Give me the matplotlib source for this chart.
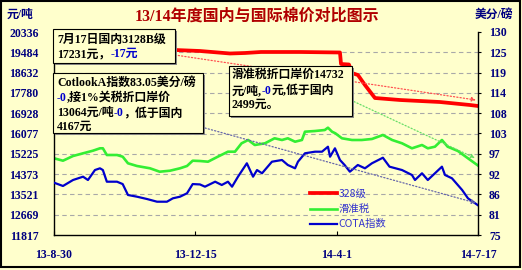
import numpy as np
import matplotlib
matplotlib.use('Agg')
import matplotlib.pyplot as plt
from matplotlib.patches import Rectangle
from matplotlib.text import Annotation

plt.rcParams['font.family'] = ['Noto Sans CJK SC', 'DejaVu Sans']

# ---- data (days since 2013-08-30) ----
red_day = [0, 91.6, 110.5, 133.2, 144.6, 156.7, 186.2, 216.5, 217.3, 223.3,
           225.6, 230.1, 235.4, 243, 262, 292.2, 315, 321]
red_val = [19560, 19581, 19539, 19434, 19455, 19497, 19497, 19476, 18993, 18972,
           18615, 18531, 18112, 17566, 17482, 17398, 17272, 17231]

green_day = [0, 6.8, 14.4, 22, 29.5, 34.8, 37, 40, 47.7, 52,
             56, 62.8, 72.7, 80, 87.8, 95.4, 100.7, 105, 110.5, 116.6,
             124, 131.7, 137, 142, 147, 152, 159.7, 167, 172.6, 177,
             182.5, 187.7, 190, 197.6, 205, 207.4, 210.5, 213, 218, 225.6,
             233, 240.7, 249, 256, 263.5, 271, 278.6, 283, 288.4, 293.7,
             298, 305.8, 313.4, 321]
green_val = [15036, 14935, 15132, 15245, 15355, 15455, 15455, 15174, 15174, 15103,
             14826, 14713, 14616, 14473, 14515, 14616, 14713, 14935, 14922, 14893,
             15103, 15313, 15313, 15665, 15804, 15594, 15665, 15875, 15804, 15875,
             15732, 15804, 16152, 16181, 16223, 16320, 16152, 16085, 15875, 15804,
             15804, 15846, 16014, 15804, 15665, 15455, 15594, 15455, 15523, 15804,
             15523, 15342, 15036, 14732]

blue_day = [0, 6.8, 14.4, 22, 25.7, 31, 34.8, 37, 40, 47.7,
            52, 56, 62.8, 70.4, 78, 85.5, 90, 95.4, 100.7, 105,
            110.5, 114.3, 122, 127, 131.7, 134.8, 139.3, 146, 150.7, 153.7,
            157.5, 165, 172.6, 177, 182.5, 184.7, 190, 197.6, 202.9, 207.4,
            209, 212.7, 216.5, 220, 224, 230, 235.4, 240.7, 249, 254,
            263.5, 271, 273.3, 278.6, 283, 293.7, 296, 301.3, 309, 313.4,
            321]
blue_val = [89.17, 88.28, 89.9, 90.8, 89.9, 92.6, 93.07, 92.6, 89.44, 89.44,
            88.8, 85.84, 85.38, 84.75, 84.02, 84.02, 84.94, 85.38, 86.3, 88.8,
            88.7, 88.09, 89.44, 88.55, 89.44, 88.09, 90.8, 94.43, 90.8, 92.6,
            91.72, 94.86, 95.32, 93.97, 93.07, 94.86, 97.14, 97.57, 97.57, 98.92,
            96.21, 98.49, 95.32, 93.97, 92.15, 93.97, 93.07, 94.43, 95.94, 93.51,
            92.6, 91.26, 89.9, 91.72, 89.9, 93.51, 91.26, 90.36, 87.19, 84.94,
            83.05]

x_ticks = [0, 107, 214, 321]
x_labels = ['13-8-30', '13-12-15', '14-4-1', '14-7-17']
left_labels = ['11817', '12669', '13521', '14373', '15225', '16077',
               '16928', '17780', '18632', '19484', '20336']
right_labels = ['75', '81', '86', '92', '97', '103', '108', '114', '119', '125', '130']
series_names = ['328级', '滑准税', 'COTA指数']

title = '13/14年度国内与国际棉价对比图示'

bg = '#FFFFCC'
navy = '#000080'
W, H = 522, 270


def fx(px):
    return px / W


def fy(py):
    return 1 - py / H


fig = plt.figure(figsize=(5.22, 2.70), dpi=100)
fig.patch.set_facecolor(bg)
ax = fig.add_axes([fx(54), fy(235), fx(478) - fx(54), fy(32) - fy(235)])
ax.set_facecolor(bg)
ax2 = ax.twinx()

left_ticks = np.linspace(11817, 20336, len(left_labels))
right_ticks = np.linspace(75, 130, len(right_labels))

for v in left_ticks[1:-1]:
    ax.axhline(v, color='#A8A8A8', lw=0.8, ls=(0, (4, 3)), zorder=0.5)

l1, = ax.plot(red_day, red_val, color='#FF0000', lw=2.7, zorder=3)
l2, = ax.plot(green_day, green_val, color='#33EE33', lw=1.9, zorder=2)
l3, = ax2.plot(blue_day, blue_val, color='#0000CC', lw=1.6, zorder=2)

ax.set_xlim(0, 321)
ax.set_ylim(11817, 20336)
ax2.set_ylim(75, 130)
ax.set_xticks(x_ticks)
ax.set_xticklabels(x_labels)
ax.set_yticks(left_ticks)
ax.set_yticklabels(left_labels)
ax2.set_yticks(right_ticks)
ax2.set_yticklabels(right_labels)

tick_font = dict(family='Liberation Serif', weight='bold', size=8.5)
for lab in ax.get_xticklabels() + ax.get_yticklabels() + ax2.get_yticklabels():
    lab.set_fontproperties(matplotlib.font_manager.FontProperties(**tick_font))
    lab.set_color(navy)

ax.tick_params(axis='x', direction='in', length=3, pad=10)
ax.tick_params(axis='y', length=0, pad=11)
ax2.tick_params(axis='y', direction='out', length=2.5, pad=5.5)

for s in ['top', 'right']:
    ax.spines[s].set_visible(False)
for s in ['top', 'left', 'bottom']:
    ax2.spines[s].set_visible(False)
for a, s in [(ax, 'left'), (ax, 'bottom'), (ax2, 'right')]:
    a.spines[s].set_color('black')
    a.spines[s].set_linewidth(1)

ax2.legend([l1, l2, l3], series_names, loc='upper left',
           bbox_to_anchor=(fx(310), fy(189)), bbox_transform=fig.transFigure,
           frameon=False, fontsize=7.5, handlelength=2.6, handletextpad=0.15,
           labelspacing=0.5, borderpad=0, borderaxespad=0, labelcolor='#3333CC')

# titles and units
serif_cjk = ['Liberation Serif', 'Noto Sans CJK SC']
fig.text(fx(257), fy(17), title, ha='center', va='center', fontsize=11.5,
         weight='bold', color='#B00000', family=serif_cjk)
fig.text(fx(7), fy(15), '元/吨', ha='left', va='center', fontsize=8.5,
         weight='bold', color=navy, family=serif_cjk)
fig.text(fx(513), fy(15), '美分/磅', ha='right', va='center', fontsize=8.5,
         weight='bold', color=navy, family=serif_cjk)

# dotted connectors
for (x0, y0), (x1, y1), c in [((175, 55), (476, 100), '#FF5050'),
                              ((342, 96), (475, 158), '#66DD66'),
                              ((205, 128), (476, 203), '#6666AA')]:
    fig.add_artist(Annotation('', xy=(fx(x1), fy(y1)), xytext=(fx(x0), fy(y0)),
                              xycoords='figure fraction', textcoords='figure fraction',
                              arrowprops=dict(arrowstyle='-|>', ls=':', color=c, lw=0.9,
                                              shrinkA=0, shrinkB=0, mutation_scale=6)))

# annotation boxes
boxes = [(53, 29, 175, 63), (229, 66, 352, 116), (53, 73, 203, 133)]
for x0, y0, x1, y1 in boxes:
    fig.add_artist(Rectangle((fx(x0 + 2), fy(y1 + 2)), fx(x1 - x0), fy(y0) - fy(y1),
                             transform=fig.transFigure, fc='#8A8A8A', ec='none', zorder=4))
    fig.add_artist(Rectangle((fx(x0), fy(y1)), fx(x1 - x0), fy(y0) - fy(y1),
                             transform=fig.transFigure, fc=bg, ec='black', lw=0.8, zorder=5))

blk, blu = 'black', '#0000CC'
box_font = dict(fontsize=8.6, weight='bold', family=serif_cjk, zorder=6)
box_lines = [
    (57, 40, [('7月17日国内3128B级', blk)]),
    (57, 54, [('17231元，', blk), ('-17元', blu)]),
    (232, 75, [('滑准税折口岸价14732', blk)]),
    (232, 91, [('元/吨,', blk), ('-0', blu), ('元,低于国内', blk)]),
    (232, 105, [('2499元。', blk)]),
    (57, 83, [('CotlookA指数83.05美分/磅', blk)]),
    (57, 98, [('-0', blu), (',接1%关税折口岸价', blk)]),
    (57, 113, [('13064元/吨', blk), ('-0', blu), ('，低于国内', blk)]),
    (57, 127, [('4167元', blk)]),
]
for x, y, segs in box_lines:
    prev = fig.text(fx(x), fy(y), segs[0][0], color=segs[0][1], ha='left',
                    va='center', **box_font)
    for s, c in segs[1:]:
        a = Annotation(s, xy=(1, 0.5), xycoords=prev, ha='left', va='center',
                       color=c, **box_font)
        fig.add_artist(a)
        prev = a

# outer frame
fig.add_artist(Rectangle((fx(1), fy(267)), fx(519), fy(1) - fy(267),
                         transform=fig.transFigure, fill=False, ec='black', lw=1.5,
                         zorder=10))

fig.savefig('out.png', dpi=100, facecolor=bg)
